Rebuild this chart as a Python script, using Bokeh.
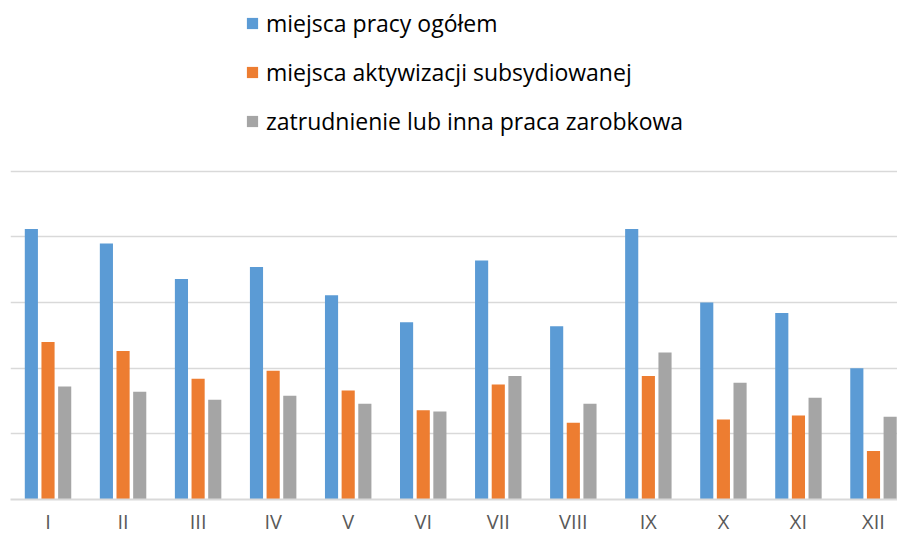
from bokeh.plotting import figure
from bokeh.models import ColumnDataSource, Range1d, FixedTicker, Legend, LegendItem
from bokeh.embed import file_html
from bokeh.resources import INLINE

months = ["I", "II", "III", "IV", "V", "VI", "VII", "VIII", "IX", "X", "XI", "XII"]
miejsca_ogolem = [4120, 3900, 3360, 3540, 3110, 2700, 3640, 2640, 4120, 3000, 2840, 2000]
miejsca_subsyd = [2400, 2260, 1840, 1960, 1660, 1360, 1750, 1170, 1880, 1220, 1280, 740]
zatrudnienie = [1720, 1640, 1520, 1580, 1460, 1340, 1880, 1460, 2240, 1780, 1550, 1260]
series_names = ["miejsca pracy ogółem", "miejsca aktywizacji subsydiowanej",
                "zatrudnienie lub inna praca zarobkowa"]
colors = ["#5B9BD5", "#ED7D31", "#A5A5A5"]
grid_ticks = [1000, 2000, 3000, 4000, 5000]

centers = [i + 0.5 for i in range(len(months))]
offsets = [-0.222, 0.0, 0.222]
bar_w = 0.175

p = figure(width=897, height=537, output_backend="svg", toolbar_location=None,
           x_range=Range1d(0, 11.82), y_range=Range1d(0, 7600),
           min_border_left=10, min_border_right=0, min_border_top=0, min_border_bottom=38)
p.outline_line_color = None
p.background_fill_color = "white"
p.border_fill_color = "white"

renderers = []
for vals, off, col in zip([miejsca_ogolem, miejsca_subsyd, zatrudnienie], offsets, colors):
    src = ColumnDataSource(dict(x=[c + off for c in centers], top=vals))
    r = p.vbar(x="x", top="top", bottom=0, width=bar_w, source=src,
               fill_color=col, line_color=None)
    renderers.append(r)

p.yaxis.visible = False
p.xgrid.visible = False
p.ygrid.ticker = FixedTicker(ticks=grid_ticks)
p.ygrid.grid_line_color = "#D9D9D9"
p.ygrid.grid_line_width = 1.5
p.ygrid.bounds = (0, 5000)

p.xaxis.ticker = FixedTicker(ticks=centers)
p.xaxis.major_label_overrides = {c: m for c, m in zip(centers, months)}
p.xaxis.axis_line_color = "#D9D9D9"
p.xaxis.axis_line_width = 2
p.xaxis.major_tick_line_color = None
p.xaxis.minor_tick_line_color = None
p.xaxis.major_tick_out = 0
p.xaxis.major_tick_in = 0
p.xaxis.axis_label_standoff = 0
p.xaxis.major_label_text_color = "#595959"
p.xaxis.major_label_text_font = "Open Sans"
p.xaxis.major_label_text_font_size = "20px"
p.xaxis.major_label_text_line_height = 1.0
p.xaxis.major_label_standoff = 8

legend = Legend(items=[LegendItem(label=n, renderers=[r]) for n, r in zip(series_names, renderers)],
                location=(235, 362), orientation="vertical",
                glyph_width=14, glyph_height=14, label_standoff=7, spacing=17,
                label_height=28,
                padding=0, margin=0, border_line_color=None, background_fill_alpha=0,
                label_text_font="Open Sans", label_text_font_size="23px",
                label_text_color="#000000")
p.add_layout(legend)

open("out.html", "w").write(file_html(p, INLINE))
